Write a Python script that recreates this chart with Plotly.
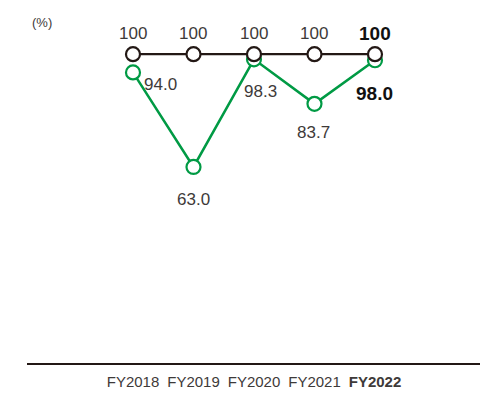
import plotly.graph_objects as go

years = ["FY2018", "FY2019", "FY2020", "FY2021", "FY2022"]
target = [100, 100, 100, 100, 100]
actual = [94.0, 63.0, 98.3, 83.7, 98.0]

# pixel offsets for the value labels of the actual series
actual_shift = [(28, -12), (0, -33), (7, -32), (-1, -29), (0, -33)]

BLACK = "#231815"
GREEN = "#009a44"
TEXT = "#3e3a39"
FONT = "Liberation Sans, Arial, sans-serif"

xs = list(range(len(years)))

fig = go.Figure()
fig.add_trace(go.Scatter(
    x=xs, y=actual, mode="lines+markers",
    line=dict(color=GREEN, width=2.5),
    marker=dict(symbol="circle", size=14, color="white",
                line=dict(color=GREEN, width=2.2)),
    hoverinfo="skip", cliponaxis=False,
))
fig.add_trace(go.Scatter(
    x=xs, y=target, mode="lines+markers",
    line=dict(color=BLACK, width=2.2),
    marker=dict(symbol="circle", size=14, color="white",
                line=dict(color=BLACK, width=2.2)),
    hoverinfo="skip", cliponaxis=False,
))

annotations = []
last = len(years) - 1
for i, (x, t, a) in enumerate(zip(xs, target, actual)):
    bold = i == last
    annotations.append(dict(
        x=x, y=t, text=f"<b>{t}</b>" if bold else f"{t}",
        showarrow=False, yshift=21,
        font=dict(family=FONT, size=19 if bold else 17,
                  color="#111111" if bold else TEXT),
    ))
    dx, dy = actual_shift[i]
    annotations.append(dict(
        x=x, y=a, text=f"<b>{a:.1f}</b>" if bold else f"{a:.1f}",
        showarrow=False, xshift=dx, yshift=dy,
        font=dict(family=FONT, size=19 if bold else 17,
                  color="#111111" if bold else TEXT),
    ))
annotations.append(dict(
    xref="paper", yref="paper", x=0.007, y=1.0, xanchor="left",
    yanchor="middle", yshift=-2, text="(%)", showarrow=False,
    font=dict(family=FONT, size=13, color=TEXT),
))

ticktext = [f"<b>{y}</b>" if i == last else y for i, y in enumerate(years)]

fig.update_layout(
    width=482, height=394,
    margin=dict(l=27, r=2, t=20, b=31),
    paper_bgcolor="white", plot_bgcolor="white",
    showlegend=False,
    annotations=annotations,
    xaxis=dict(
        range=[-1.752, 5.736], tickvals=xs, ticktext=ticktext,
        showgrid=False, zeroline=False, showline=True,
        linecolor=BLACK, linewidth=1.5, ticks="",
        ticklabelstandoff=4,
        tickfont=dict(family=FONT, size=15, color=TEXT),
        fixedrange=True,
    ),
    yaxis=dict(
        range=[-1.3, 111.2], visible=False, showgrid=False,
        zeroline=False, fixedrange=True,
    ),
)

fig.write_html("out.html")
